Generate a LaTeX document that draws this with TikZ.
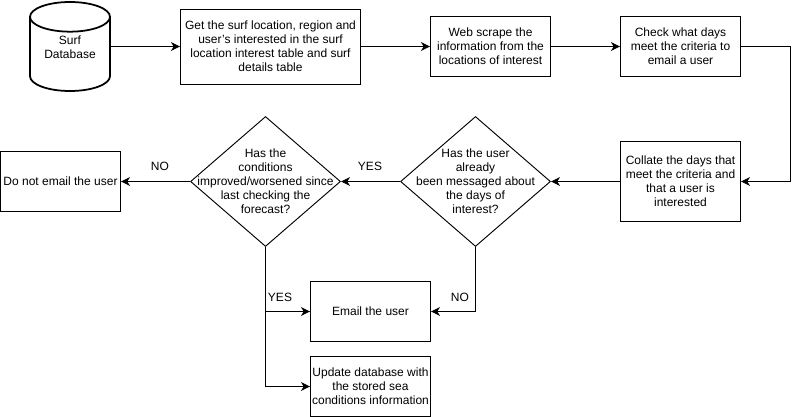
\documentclass[tikz,border=0pt]{standalone}
\usepackage{fontspec}
\setmainfont{Liberation Sans}
\usetikzlibrary{shapes.geometric, arrows.meta, positioning}
\tikzset{
  flowtext/.style={font=\fontsize{10.25}{11.96}\selectfont, align=center, inner sep=0pt},
  flowbox/.style={flowtext, draw, line width=0.8pt, rectangle, minimum width=3.6cm, minimum height=1.8cm},
  decision/.style={draw, line width=0.8pt, diamond, aspect=1.154, inner sep=0pt, minimum width=4.5cm, minimum height=3.9cm},
  flowline/.style={line width=0.8pt, -{Stealth[length=0.27cm, width=0.26cm, inset=0.08cm]}}
}
\begin{document}
\begin{tikzpicture}[x=0.03cm, y=-0.03cm]
  \useasboundingbox (0, 0) rectangle (799, 417);

  % Top row
  \node[draw, line width=1.5pt, cylinder, shape border rotate=90, aspect=3.8, minimum width=2.4cm, minimum height=2.67cm, anchor=shape center] (surfdb) at (70, 46.5) {};
  \node[flowtext] (surftext) at (70, 47.5) {Surf\\Database};
  \node[flowbox, minimum width=5.4cm, minimum height=2.25cm] (getbox) at (270.5, 46.5) {Get the surf location, region and\\user's interested in the surf\\location interest table and surf\\details table};
  \node[flowbox] (scrapebox) at (490.5, 46.5) {Web scrape the\\information from the\\locations of interest};
  \node[flowbox] (checkbox) at (680.5, 46.5) {Check what days\\meet the criteria to\\email a user};

  % Middle row
  \node[flowbox, minimum height=2.4cm] (collatebox) at (680.5, 181.5) {Collate the days that\\meet the criteria and\\that a user is\\interested};
  \node[decision] (msgdec) at (475.5, 181.5) {};
  \node[flowtext] (msgtext) at (msgdec.center) {Has the user\\already\\been messaged about\\the days of\\interest?};
  \node[decision] (conddec) at (265.5, 181.5) {};
  \node[flowtext] (condtext) at (conddec.center) {Has the\\conditions\\improved/worsened since\\last checking the\\forecast?};
  \node[flowbox] (nomailbox) at (60.5, 181.5) {Do not email the user};

  % Bottom row
  \node[flowbox] (emailbox) at (370.5, 311.5) {Email the user};
  \node[flowbox] (updatebox) at (370.5, 386.5) {Update database with\\the stored sea\\conditions information};

  % Connectors
  \coordinate (rightbend) at (790.5, 100);
  \draw[flowline] (surfdb.east |- getbox.west) -- (getbox.west);
  \draw[flowline] (getbox.east) -- (scrapebox.west);
  \draw[flowline] (scrapebox.east) -- (checkbox.west);
  \draw[flowline] (checkbox.east) -| (rightbend) |- (collatebox.east);
  \draw[flowline] (collatebox.west) -- (msgdec.east);
  \draw[flowline] (msgdec.west) -- (conddec.east);
  \draw[flowline] (conddec.west) -- (nomailbox.east);
  \draw[flowline] (msgdec.south) |- (emailbox.east);
  \draw[flowline] (conddec.south) |- (emailbox.west);
  \draw[flowline] (conddec.south) |- (updatebox.west);

  % Labels
  \node[flowtext] (yesmsg) at (370, 166) {YES};
  \node[flowtext] (nocond) at (160, 166) {NO};
  \node[flowtext] (yescond) at (280, 297) {YES};
  \node[flowtext] (nomsg) at (460, 297) {NO};
\end{tikzpicture}
\end{document}
